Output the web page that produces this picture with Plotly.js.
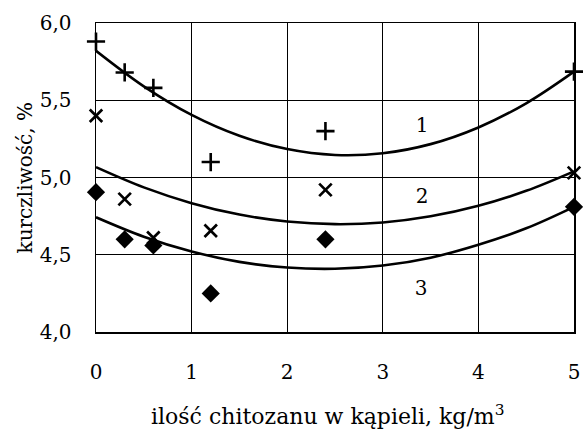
<!DOCTYPE html>
<html><head><meta charset="utf-8">
<script src="https://cdn.plot.ly/plotly-3.0.1.min.js"></script>
<style>html,body{margin:0;padding:0;background:#fff}#chart{width:583px;height:430px}</style>
</head><body><div id="chart"></div>
<script>
// measured points
const xPoints = [0, 0.3, 0.6, 1.2, 2.4, 5];
const series1 = [5.88, 5.68, 5.58, 5.10, 5.30, 5.685];
const series2 = [5.40, 4.86, 4.61, 4.655, 4.92, 5.03];
const series3 = [4.905, 4.60, 4.56, 4.25, 4.60, 4.81];
// trend curves
const xCurve = [0, 0.5, 1, 1.5, 2, 2.5, 3, 3.5, 4, 4.5, 5];
const curve1 = [5.82, 5.59, 5.405, 5.27, 5.184, 5.146, 5.157, 5.216, 5.324, 5.48, 5.685];
const curve2 = [5.067, 4.936, 4.834, 4.760, 4.715, 4.698, 4.709, 4.749, 4.817, 4.914, 5.04];
const curve3 = [4.743, 4.617, 4.521, 4.454, 4.417, 4.409, 4.430, 4.481, 4.565, 4.671, 4.81];
const curveLabels = ["1", "2", "3"];
const labelX = [3.41, 3.41, 3.40];
const labelY = [5.33, 4.865, 4.27];
const xTicks = [0, 1, 2, 3, 4, 5];
const yTicks = [4.0, 4.5, 5.0, 5.5, 6.0];

const font = "DejaVu Serif";
const fs = 20;
const curveStyle = {color: "#000", width: 2.6, shape: "spline"};
const traces = [
  {x: xCurve, y: curve1, mode: "lines", line: curveStyle, hoverinfo: "skip"},
  {x: xCurve, y: curve2, mode: "lines", line: curveStyle, hoverinfo: "skip"},
  {x: xCurve, y: curve3, mode: "lines", line: curveStyle, hoverinfo: "skip"},
  {x: xPoints, y: series1, mode: "markers", cliponaxis: false,
   marker: {symbol: "cross-thin", size: 13, line: {color: "#000", width: 2.6}}},
  {x: xPoints, y: series2, mode: "markers", cliponaxis: false,
   marker: {symbol: "x-thin", size: 12.5, line: {color: "#000", width: 2.7}}},
  {x: xPoints, y: series3, mode: "markers", cliponaxis: false,
   marker: {symbol: "diamond", size: 14, color: "#000"}},
  {x: labelX, y: labelY, mode: "text", text: curveLabels,
   textfont: {family: font, size: 20, color: "#000"}, hoverinfo: "skip"}
];
const layout = {
  width: 583, height: 430,
  margin: {l: 96, r: 9, t: 23, b: 98},
  paper_bgcolor: "#fff", plot_bgcolor: "#fff",
  showlegend: false,
  separators: ", ",
  font: {family: font, size: fs, color: "#000"},
  xaxis: {range: [0, 5], tickvals: xTicks, ticktext: xTicks.map(String),
    showgrid: true, gridcolor: "#000", gridwidth: 1.3,
    showline: true, linecolor: "#000", linewidth: 1.5, mirror: true,
    zeroline: false, ticks: "", ticklabelstandoff: 21,
    tickfont: {family: font, size: fs, color: "#000"}},
  yaxis: {range: [4.0, 6.0], tickvals: yTicks, tickformat: ".1f",
    showgrid: true, gridcolor: "#000", gridwidth: 1.3,
    showline: true, linecolor: "#000", linewidth: 1.5, mirror: true,
    zeroline: false, ticks: "", ticklabelstandoff: 19,
    tickfont: {family: font, size: fs, color: "#000"}},
  annotations: [
    {text: "ilość chitozanu w kąpieli, kg/m<sup>3</sup>", xref: "paper", yref: "paper",
     x: 0.486, y: -0.268, xanchor: "center", yanchor: "middle", showarrow: false,
     font: {family: font, size: 22, color: "#000"}},
    {text: "kurczliwość, %", xref: "paper", yref: "paper", textangle: -90,
     x: -0.1485, y: 0.497, xanchor: "center", yanchor: "middle", showarrow: false,
     font: {family: font, size: fs, color: "#000"}}
  ]
};
Plotly.newPlot("chart", traces, layout, {staticPlot: true});
</script></body></html>
